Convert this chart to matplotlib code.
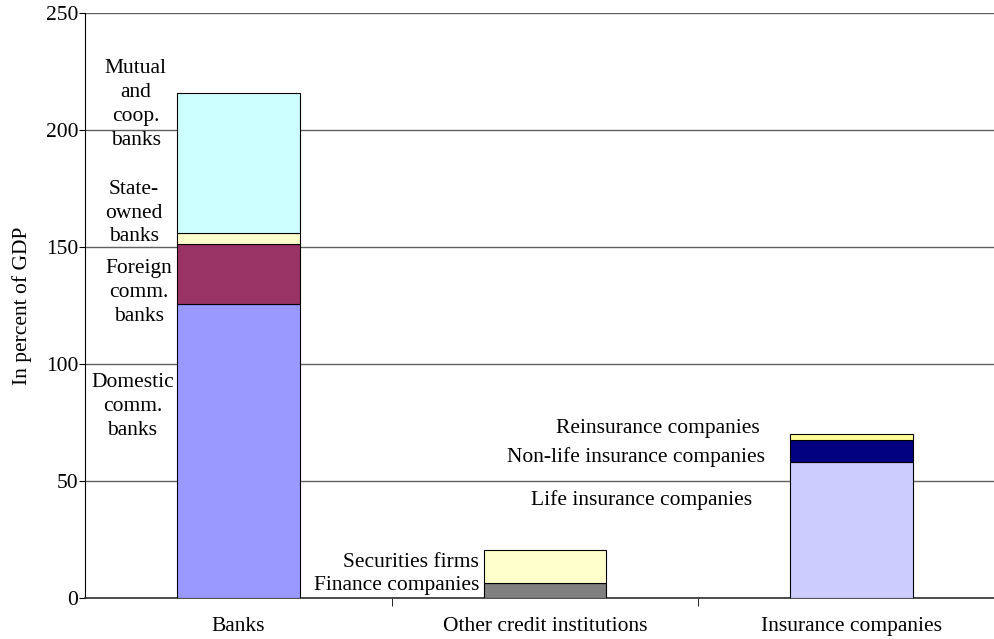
import numpy as np
import matplotlib
matplotlib.use("Agg")
import matplotlib.pyplot as plt

plt.rcParams['font.family'] = ['Liberation Serif', 'DejaVu Serif']

categories = ["Banks", "Other credit institutions", "Insurance companies"]

# stacked segments, in percent of GDP
banks = [125.5, 25.8, 4.8, 59.9]
banks_names = ["Domestic\ncomm.\nbanks", "Foreign\ncomm.\nbanks", "State-\nowned\nbanks", "Mutual\nand\ncoop.\nbanks"]
banks_colors = ["#9999FF", "#993366", "#FFFFCC", "#CCFFFF"]

other = [6.3, 14.0]
other_names = ["Finance companies", "Securities firms"]
other_colors = ["#808080", "#FFFFCC"]

insurance = [58.1, 9.6, 2.3]
insurance_names = ["Life insurance companies", "Non-life insurance companies", "Reinsurance companies"]
insurance_colors = ["#CCCCFF", "#000080", "#FFFF99"]

fig = plt.figure(figsize=(9.95, 6.39), dpi=100)
ax = fig.add_axes([85 / 995, 41 / 639, 920 / 995, 585 / 639])

width = 0.4
for i, (vals, cols) in enumerate([(banks, banks_colors), (other, other_colors), (insurance, insurance_colors)]):
    bottoms = np.concatenate([[0], np.cumsum(vals)[:-1]])
    ax.bar(i, vals, width, bottom=bottoms, color=cols, edgecolor="black", linewidth=0.8, zorder=3)

fs = 15.5
ax.set_xlim(-0.5, 2.5)
ax.set_ylim(0, 250)
ax.set_yticks(np.arange(0, 251, 50))
ax.yaxis.grid(True, color="#606060", linewidth=1.0, zorder=0)
ax.set_axisbelow(True)
ax.set_xticks(range(3))
ax.set_xticklabels(categories)
ax.set_xticks([0.5, 1.5], minor=True)
ax.tick_params(axis="x", which="major", length=0, pad=14, labelsize=fs)
ax.tick_params(axis="x", which="minor", length=6, direction="out")
ax.tick_params(axis="y", length=4, direction="out", labelsize=fs, pad=1)
for s in ["top", "right"]:
    ax.spines[s].set_visible(False)
ax.spines["bottom"].set_color("#303030")
ax.spines["bottom"].set_linewidth(1.2)
ax.set_ylabel("In percent of GDP", fontsize=fs, labelpad=10)

# bank labels
bank_pos = [(-0.345, 82), (-0.325, 130.5), (-0.34, 164.5), (-0.335, 211)]
for name, (x, y) in zip(banks_names, bank_pos):
    ax.text(x, y, name, ha="center", va="center", fontsize=fs, linespacing=1.35)

other_pos = [(0.785, 5.3), (0.785, 15.1)]
for name, (x, y) in zip(other_names, other_pos):
    ax.text(x, y, name, ha="right", va="center", fontsize=fs)

ins_pos = [(1.674, 41.9), (1.717, 60.3), (1.700, 72.6)]
for name, (x, y) in zip(insurance_names, ins_pos):
    ax.text(x, y, name, ha="right", va="center", fontsize=fs)

fig.savefig("out.png", dpi=100)
